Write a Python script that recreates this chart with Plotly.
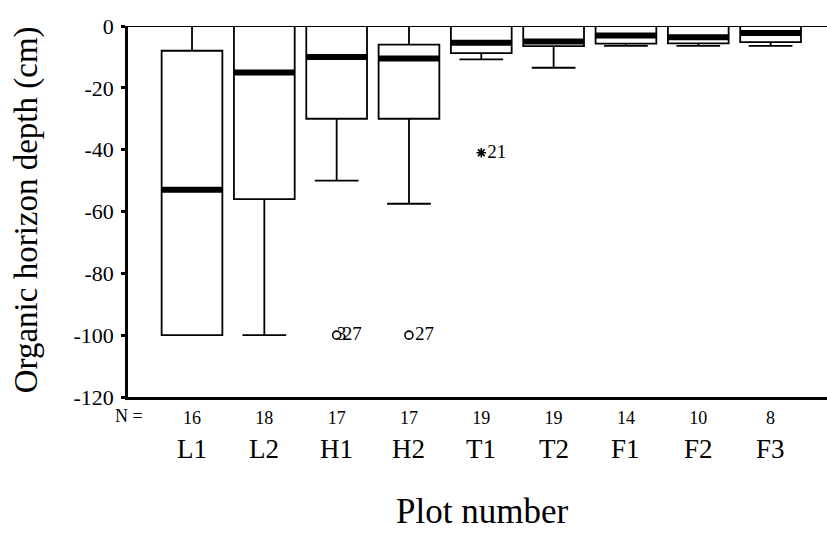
import plotly.graph_objects as go

# ---- data ----
plots = ["L1", "L2", "H1", "H2", "T1", "T2", "F1", "F2", "F3"]
n_counts = [16, 18, 17, 17, 19, 19, 14, 10, 8]
upper_whisker = [0, 0, 0, 0, 0, 0, 0, 0, 0]
q3 = [-8, 0, 0, -6, 0, 0, 0, 0, 0]
median = [-53, -15, -10, -10.5, -5.4, -5, -3.1, -3.6, -2.3]
q1 = [-100, -56, -30, -30, -8.8, -6.5, -5.7, -5.6, -5.2]
lower_whisker = [-100, -100, -50, -57.5, -10.8, -13.5, -6.4, -6.4, -6.4]

# outliers (circle) and extremes (asterisk)
outlier_plot = ["H1", "H2"]
outlier_value = [-100, -100]
outlier_label = ["27", "27"]
extreme_plot = ["T1"]
extreme_value = [-41]
extreme_label = ["21"]

y_ticks = [0, -20, -40, -60, -80, -100, -120]

FONT = "Liberation Serif"
BOX_W = 0.84
pos = list(range(len(plots)))

fig = go.Figure()

fig.add_trace(go.Box(
    x=pos, q1=q1, median=median, q3=q3,
    lowerfence=lower_whisker, upperfence=upper_whisker,
    width=BOX_W, whiskerwidth=0.72,
    fillcolor="white", line=dict(color="black", width=1.8),
    boxpoints=False, showlegend=False, hoverinfo="skip",
))

# thick median bars
mx, my = [], []
for p, m in zip(pos, median):
    mx += [p - BOX_W / 2, p + BOX_W / 2, None]
    my += [m, m, None]
fig.add_trace(go.Scatter(x=mx, y=my, mode="lines",
                         line=dict(color="black", width=6),
                         showlegend=False, hoverinfo="skip"))

# outliers
ox = [plots.index(p) for p in outlier_plot]
fig.add_trace(go.Scatter(
    x=ox, y=outlier_value, mode="markers+text",
    marker=dict(symbol="circle-open", size=8, color="black", line=dict(width=1.6)),
    text=outlier_label, textposition="middle right",
    textfont=dict(family=FONT, size=19, color="black"),
    showlegend=False, hoverinfo="skip", cliponaxis=False))
# overlapping second case label on H1 outlier
fig.add_trace(go.Scatter(
    x=[ox[0]], y=[outlier_value[0]], mode="text",
    text=["3 "], textposition="middle right",
    textfont=dict(family=FONT, size=19, color="black"),
    showlegend=False, hoverinfo="skip", cliponaxis=False))

ex = [plots.index(p) for p in extreme_plot]
fig.add_trace(go.Scatter(
    x=ex, y=extreme_value, mode="markers+text",
    marker=dict(symbol="asterisk-open", size=8, color="black", line=dict(width=1.6, color="black")),
    text=extreme_label, textposition="middle right",
    textfont=dict(family=FONT, size=19, color="black"),
    showlegend=False, hoverinfo="skip", cliponaxis=False))

# short dash tick marks under the category axis
fig.add_trace(go.Scatter(
    x=pos, y=[min(y_ticks) - 1.3] * len(pos), mode="markers",
    marker=dict(symbol="line-ew", size=7, color="black", line=dict(width=2, color="black")),
    showlegend=False, hoverinfo="skip", cliponaxis=False))

# plot-name row
for p, name in zip(pos, plots):
    fig.add_annotation(x=p, xref="x", y=-0.095, yref="paper", text=name,
                       showarrow=False, xanchor="center", yanchor="top",
                       font=dict(family=FONT, size=27, color="black"))

fig.add_annotation(x=0.024, xref="paper", y=-0.05, yref="paper", text="N =",
                   showarrow=False, xanchor="right", yanchor="middle",
                   font=dict(family=FONT, size=18, color="black"))

fig.add_annotation(x=0.506, xref="paper", y=-0.25, yref="paper", text="Plot number",
                   showarrow=False, xanchor="center", yanchor="top",
                   font=dict(family=FONT, size=35, color="black"))

fig.add_annotation(x=-0.145, xref="paper", y=0.505, yref="paper",
                   text="Organic horizon depth (cm)", textangle=-90,
                   showarrow=False, xanchor="center", yanchor="middle",
                   font=dict(family=FONT, size=33, color="black"))

fig.update_xaxes(
    range=[-0.885, 8.78], tickvals=pos, ticktext=[str(n) for n in n_counts],
    ticks="", showline=True, linecolor="black", linewidth=2.5,
    showgrid=False, zeroline=False, ticklabelstandoff=3,
    tickfont=dict(family=FONT, size=18, color="black"),
)
fig.update_yaxes(
    range=[-120, 0], tickvals=y_ticks, ticktext=[str(v) for v in y_ticks],
    ticks="outside", ticklen=4, tickwidth=3, tickcolor="black",
    showline=True, linecolor="black", linewidth=2.5,
    showgrid=False, zeroline=True, zerolinecolor="black", zerolinewidth=1.2,
    ticklabelstandoff=3,
    tickfont=dict(family=FONT, size=22, color="black"),
)
fig.update_layout(
    width=827, height=533,
    margin=dict(l=128, r=0, t=26, b=136),
    plot_bgcolor="white", paper_bgcolor="white",
    font=dict(family=FONT, color="black"),
    showlegend=False,
)
fig.write_html("out.html")
